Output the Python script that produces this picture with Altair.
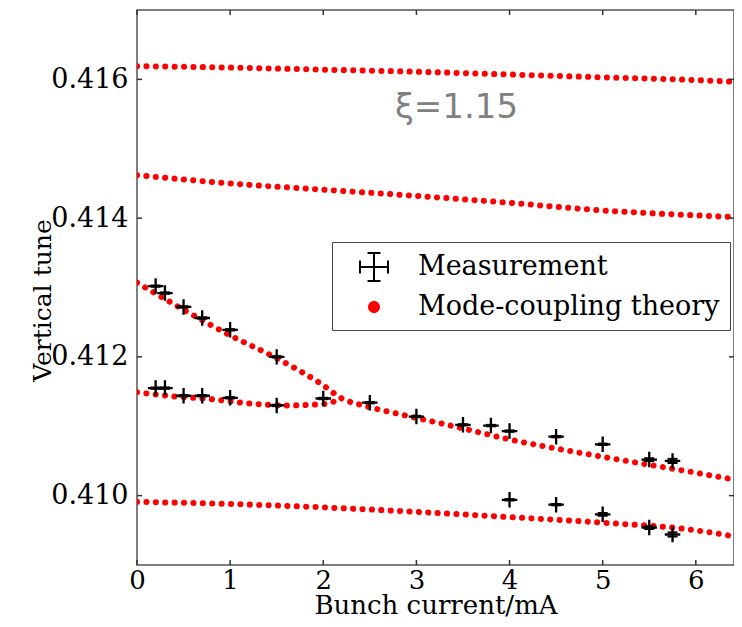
import altair as alt
import pandas as pd

# ---------------- data ----------------
# Mode-coupling theory curves (x = bunch current / mA, y = vertical tune)
curve_a_x = [0, 1, 2, 3, 4, 5, 6, 6.5]
curve_a_y = [0.41619, 0.41617, 0.41614, 0.41611, 0.41607, 0.41603, 0.41599, 0.41596]

curve_b_x = [0, 1, 2, 3, 4, 5, 6, 6.5]
curve_b_y = [0.41462, 0.41450, 0.41441, 0.41432, 0.41422, 0.41411, 0.41404, 0.41401]

curve_c_x = [0, 0.5, 1.0, 1.5, 2.0, 2.2, 2.4, 2.8, 3.4, 4.0, 5.0, 6.0, 6.5]
curve_c_y = [0.41307, 0.41268, 0.41231, 0.41198, 0.41159, 0.41140, 0.41131, 0.41118,
             0.41100, 0.41081, 0.41056, 0.41033, 0.41021]

curve_e_x = [0, 0.4, 0.8, 1.2, 1.6, 2.0, 2.2]
curve_e_y = [0.41149, 0.41143, 0.41139, 0.41133, 0.41130, 0.41132, 0.41140]

curve_d_x = [0, 1, 2, 2.8, 4, 5, 6, 6.5]
curve_d_y = [0.40991, 0.40988, 0.40983, 0.40978, 0.40969, 0.40961, 0.40950, 0.40939]

# Measurements
meas_x = [0.2, 0.3, 0.5, 0.7, 1.0, 1.5,
          0.2, 0.3, 0.5, 0.7, 1.0, 1.5, 2.0, 2.5, 3.0, 3.5, 3.8, 4.0, 4.5, 5.0, 5.5, 5.75,
          4.0, 4.5, 5.0, 5.5, 5.75]
meas_y = [0.41302, 0.41292, 0.41272, 0.41256, 0.41239, 0.41200,
          0.41155, 0.41155, 0.41144, 0.41144, 0.41141, 0.41130, 0.41140, 0.41134, 0.41114,
          0.41102, 0.41101, 0.41093, 0.41085, 0.41074, 0.41052, 0.41050,
          0.40994, 0.40987, 0.40973, 0.40954, 0.40944]
meas_yerr = [0.00001, 0.00001, 0.00001, 0.00001, 0.00001, 0.00001,
             0.00001, 0.00001, 0.00001, 0.00001, 0.00001, 0.00001, 0.00001, 0.00001, 0.00001,
             0.00001, 0.00001, 0.00001, 0.00001, 0.00001, 0.00002, 0.00003,
             0.00001, 0.00001, 0.00002, 0.00002, 0.00003]

x_ticks = [0, 1, 2, 3, 4, 5, 6]
y_ticks = [0.410, 0.412, 0.414, 0.416]
x_domain = [0, 6.41]
y_domain = [0.409, 0.417]
legend_labels = ["Measurement", "Mode-coupling theory"]
annotation_text = ["ξ=1.15"]
annotation_x = [3.43]
annotation_y = [0.41545]

# ---------------- tables ----------------
theory_rows = []
for name, xs_, ys_ in [("A", curve_a_x, curve_a_y), ("B", curve_b_x, curve_b_y),
                       ("C", curve_c_x, curve_c_y), ("E", curve_e_x, curve_e_y),
                       ("D", curve_d_x, curve_d_y)]:
    for xv, yv in zip(xs_, ys_):
        theory_rows.append({"x": xv, "y": yv, "curve": name})
theory_df = pd.DataFrame(theory_rows)
meas_df = pd.DataFrame({"x": meas_x, "y": meas_y, "yerr": meas_yerr})
legend_df = pd.DataFrame({"series": legend_labels})
ann_df = pd.DataFrame({"x": annotation_x, "y": annotation_y, "t": annotation_text})

SERIF = "DejaVu Serif"
FS = 27

xs = alt.Scale(domain=x_domain, nice=False, zero=False)
ys = alt.Scale(domain=y_domain, nice=False, zero=False)
xaxis = alt.Axis(title="Bunch current/mA", values=x_ticks, format="d", domain=False,
                 ticks=False, grid=False, labelFont=SERIF, labelFontSize=26,
                 labelColor="black", labelPadding=2, labelFlush=False, labelOverlap=False,
                 titleFont=SERIF, titleFontSize=26, titleFontWeight="normal",
                 titleColor="black", titleBaseline="alphabetic", titleY=48)
yaxis = alt.Axis(title="Vertical tune", values=y_ticks, format=".3f", domain=False,
                 ticks=False, grid=False, labelFont=SERIF, labelFontSize=FS,
                 labelColor="black", labelPadding=9, labelFlush=False, labelOverlap=False,
                 titleFont=SERIF, titleFontSize=25, titleFontWeight="normal",
                 titleColor="black", titleBaseline="alphabetic", titleX=-87, titleY=290)


def X(field):
    return alt.X(field, scale=xs, axis=xaxis)


def Y(field):
    return alt.Y(field, scale=ys, axis=yaxis)


theory = alt.Chart(theory_df).mark_line(
    color="#ff0000", strokeWidth=6, strokeDash=[0.1, 9.3], strokeCap="round",
    interpolate="monotone", clip=True
).encode(x=X("x:Q"), y=Y("y:Q"), detail="curve:N")

plus_path = "M-1,-0.15H1V0.15H-1Z M-0.15,-1H0.15V1H-0.15Z"
meas = alt.Chart(meas_df).mark_point(
    shape=plus_path, filled=True, size=240, color="black", opacity=1
).encode(x=X("x:Q"), y=Y("y:Q"))

cap_top = alt.Chart(meas_df).transform_calculate(yc="datum.y + datum.yerr").mark_tick(
    orient="horizontal", size=10, thickness=2, color="black", opacity=1
).encode(x=X("x:Q"), y=Y("yc:Q"))
cap_bot = alt.Chart(meas_df).transform_calculate(yc="datum.y - datum.yerr").mark_tick(
    orient="horizontal", size=10, thickness=2, color="black", opacity=1
).encode(x=X("x:Q"), y=Y("yc:Q"))

capcross_path = ("M-1,-0.067H1V0.067H-1Z M-0.067,-1H0.067V1H-0.067Z "
                 "M-1,-0.43H-0.867V0.43H-1Z M0.867,-0.43H1V0.43H0.867Z "
                 "M-0.43,-1H0.43V-0.867H-0.43Z M-0.43,0.867H0.43V1H-0.43Z")
dot_path = "M-0.4,0A0.4,0.4,0,1,1,0.4,0A0.4,0.4,0,1,1,-0.4,0Z"
leg = alt.Legend(title=None, orient="none", legendX=195, legendY=232, symbolSize=900,
                 labelFont=SERIF, labelFontSize=FS, labelColor="black", labelLimit=600,
                 padding=10, rowPadding=10, symbolOffset=17, labelOffset=29,
                 strokeColor="#444444", fillColor="white", cornerRadius=0,
                 symbolStrokeWidth=0)
legend_layer = alt.Chart(legend_df).mark_point(filled=True, opacity=1, clip=True).encode(
    x=alt.XDatum(-1, scale=xs, axis=xaxis),
    y=alt.YDatum(0.413, scale=ys, axis=yaxis),
    color=alt.Color("series:N", scale=alt.Scale(domain=legend_labels, range=["black", "#ff0000"]), legend=leg),
    shape=alt.Shape("series:N", scale=alt.Scale(domain=legend_labels, range=[capcross_path, dot_path]), legend=leg),
)

ann = alt.Chart(ann_df).mark_text(
    font="DejaVu Sans", fontSize=34, color="#808080", align="center", baseline="alphabetic"
).encode(x=X("x:Q"), y=Y("y:Q"), text="t:N")

tick_x_df = pd.DataFrame({"x": x_ticks})
tick_y_df = pd.DataFrame({"y": y_ticks})
tick_style = dict(size=5, thickness=1.5, color="#333333", opacity=1)
t_bottom = alt.Chart(tick_x_df).mark_tick(orient="vertical", yOffset=-2.5, **tick_style).encode(
    x=X("x:Q"), y=alt.YDatum(y_domain[0], scale=ys, axis=yaxis))
t_top = alt.Chart(tick_x_df).mark_tick(orient="vertical", yOffset=2.5, **tick_style).encode(
    x=X("x:Q"), y=alt.YDatum(y_domain[1], scale=ys, axis=yaxis))
t_left = alt.Chart(tick_y_df).mark_tick(orient="horizontal", xOffset=2.5, **tick_style).encode(
    y=Y("y:Q"), x=alt.XDatum(x_domain[0], scale=xs, axis=xaxis))
t_right = alt.Chart(tick_y_df).mark_tick(orient="horizontal", xOffset=-2.5, **tick_style).encode(
    y=Y("y:Q"), x=alt.XDatum(x_domain[1], scale=xs, axis=xaxis))

chart = alt.layer(
    theory, cap_top, cap_bot, meas, legend_layer, ann, t_bottom, t_top, t_left, t_right
).properties(
    width=597, height=555,
    padding={"left": 129, "top": 2, "right": 0, "bottom": 53},
    autosize=alt.AutoSizeParams(type="none"),
).configure_view(stroke="#555555", strokeWidth=1.5)

chart.save("out.html", embed_options={"renderer": "svg", "actions": False})
